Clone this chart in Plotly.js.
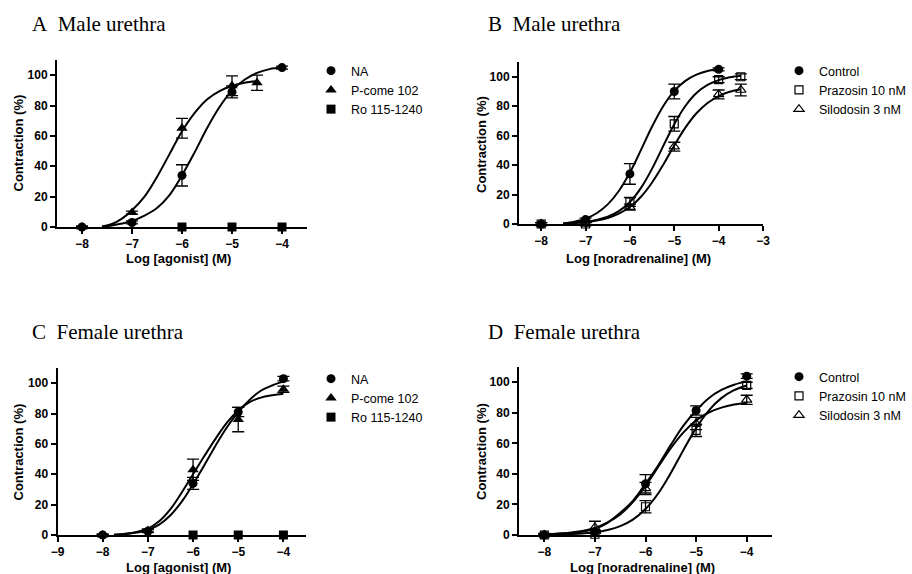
<!DOCTYPE html>
<html>
<head>
<meta charset="utf-8">
<script src="https://cdn.plot.ly/plotly-3.0.1.min.js"></script>
<style>html,body{margin:0;padding:0;background:#fff;}#chart{width:912px;height:574px;}</style>
</head>
<body>
<div id="chart"></div>
<script>
// ---------- DATA ----------
// Panel A – Male urethra (agonists)
const xA_NA = [-8, -7, -6, -5, -4];
const yA_NA = [0, 3, 34, 89, 105];
const eA_NA = [0.5, 1, 7, 4, 1];
const xA_PC = [-8, -7, -6, -5, -4.5];
const yA_PC = [0, 9.5, 65, 93, 95];
const eA_PC = [0.5, 1, 6.5, 6.5, 5];
const xA_Ro = [-6, -5, -4];
const yA_Ro = [0, 0, 0];
const cxA_NA = [-7.6, -7.4, -7.2, -7, -6.75, -6.5, -6.25, -6, -5.75, -5.5, -5.25, -5, -4.75, -4.5, -4.25, -4];
const cyA_NA = [0.2, 1, 2.3, 4, 7.5, 12.5, 21, 34, 49, 65, 79, 90, 97, 101.5, 104, 105];
const cxA_PC = [-7.6, -7.4, -7.2, -7, -6.75, -6.5, -6.25, -6, -5.75, -5.5, -5.25, -5, -4.75, -4.5];
const cyA_PC = [0.3, 2, 5.5, 11, 20, 33, 48, 63, 75, 84, 89.5, 93, 95, 96];

// Panel B – Male urethra (noradrenaline + antagonists)
const xB_Ctl = [-8, -7, -6, -5, -4];
const yB_Ctl = [0, 3, 34, 90, 105];
const eB_Ctl = [1, 1, 7, 5, 1];
const xB_Ant = [-8, -7, -6, -5, -4, -3.5];
const yB_Praz = [0, 0, 15, 68, 98, 100];
const eB_Praz = [1, 1, 3, 5, 2, 2];
const yB_Silo = [0, 0, 11.5, 52.5, 88, 91];
const eB_Silo = [1, 1, 2, 3, 3, 4];
const cxB_Ctl = [-7.5, -7.25, -7, -6.75, -6.5, -6.25, -6, -5.75, -5.5, -5.25, -5, -4.75, -4.5, -4.25, -4];
const cyB_Ctl = [0.4, 1.6, 3.6, 7.3, 13.3, 22.4, 34.9, 50.3, 66.2, 80.0, 90.4, 97.2, 101.4, 103.9, 105.3];
const cxB_Ant = [-7.5, -7.25, -7, -6.75, -6.5, -6.25, -6, -5.75, -5.5, -5.25, -5, -4.75, -4.5, -4.25, -4, -3.75, -3.5];
const cyB_Praz = [0.3, 0.7, 1.4, 2.7, 4.9, 8.7, 14.9, 24.5, 37.6, 52.9, 67.8, 80.1, 88.9, 94.4, 97.7, 99.6, 100.7];
const cyB_Silo = [0.3, 0.7, 1.3, 2.4, 4.1, 7.0, 11.5, 18.5, 28.2, 40.2, 53.3, 65.4, 75.2, 82.2, 86.9, 89.8, 91.5];

// Panel C – Female urethra (agonists)
const xC = [-8, -7, -6, -5, -4];
const yC_NA = [0, 2.5, 34, 81, 103];
const eC_NA = [0.5, 1, 4, 3, 1.5];
const yC_PC = [0, 3, 43, 76, 96];
const eC_PC = [0.5, 1, 7, 8, 2];
const xC_Ro = [-6, -5, -4];
const yC_Ro = [0, 0, 0];
const cxC = [-7.75, -7.5, -7.25, -7, -6.75, -6.5, -6.25, -6, -5.75, -5.5, -5.25, -5, -4.75, -4.5, -4.25, -4];
const cyC_NA = [0.1, 0.6, 1.6, 3.3, 6.8, 13, 22, 33.5, 46, 59, 71, 81, 89, 95, 98.5, 101];
const cyC_PC = [0.1, 0.8, 2, 4.2, 9, 17, 28, 40, 52, 63.5, 74, 82, 87.5, 90.5, 92, 93];

// Panel D – Female urethra (noradrenaline + antagonists)
const xD = [-8, -7, -6, -5, -4];
const yD_Ctl = [0, 2, 33.5, 81.5, 104];
const eD_Ctl = [1, 1, 6, 3, 1.5];
const yD_Praz = [0, 0.5, 18.5, 68.5, 98];
const eD_Praz = [0.5, 1, 4, 4, 2];
const yD_Silo = [0, 5, 30.5, 73, 88.5];
const eD_Silo = [0.5, 4, 4, 4, 3];
const cxD = [-8, -7.75, -7.5, -7.25, -7, -6.75, -6.5, -6.25, -6, -5.75, -5.5, -5.25, -5, -4.75, -4.5, -4.25, -4];
const cyD_Ctl = [0.5, 0.8, 1.3, 2.2, 4, 8, 14.5, 22.4, 33.5, 45.5, 59, 71.6, 81.5, 89.6, 95, 98.4, 100.6];
const cyD_Praz = [0.2, 0.3, 0.6, 1.0, 1.8, 3.3, 5.8, 10.1, 17, 27.2, 40.6, 55.7, 70, 81.5, 89.6, 94.8, 97.9];
const cyD_Silo = [0.5, 0.9, 1.5, 2.6, 4.6, 8.2, 13.5, 21.5, 32.1, 44.5, 56.8, 67.2, 75, 80.2, 83.4, 85.4, 86.5];

// Labels and ticks
const panelTitles = ['A\u00a0\u00a0Male urethra', 'B\u00a0\u00a0Male urethra', 'C\u00a0\u00a0Female urethra', 'D\u00a0\u00a0Female urethra'];
const xTitles = ['Log [agonist] (M)', 'Log [noradrenaline] (M)', 'Log [agonist] (M)', 'Log [noradrenaline] (M)'];
const yTitle = 'Contraction (%)';
const agonistNames = ['NA', 'P-come 102', 'Ro 115-1240'];
const antagonistNames = ['Control', 'Prazosin 10 nM', 'Silodosin 3 nM'];
const xTicksA = [-8, -7, -6, -5, -4];
const xTicksB = [-8, -7, -6, -5, -4, -3];
const xTicksC = [-9, -8, -7, -6, -5, -4];
const xTicksD = [-8, -7, -6, -5, -4];
const yTicks = [0, 20, 40, 60, 80, 100];

// ---------- BUILD ----------
const W = 912, H = 574;
const fx = p => p / W;
const fy = p => 1 - p / H;
const SANS = 'Arial, "Liberation Sans", sans-serif';
const SERIF = '"Times New Roman", "Liberation Serif", serif';

function pts(x, y, err, name, symbol, n, leg, size) {
  const open = symbol.indexOf('open') >= 0;
  return {
    type: 'scatter', mode: 'markers', x: x, y: y, name: name,
    xaxis: 'x' + (n === 1 ? '' : n), yaxis: 'y' + (n === 1 ? '' : n),
    legend: leg, cliponaxis: false,
    marker: {symbol: symbol, size: size, color: '#000',
             line: {color: '#000', width: open ? 1.2 : 0}},
    error_y: err ? {type: 'data', array: err, visible: true, color: '#000', thickness: 1.3, width: 6} : {visible: false}
  };
}
function curve(x, y, n) {
  return {
    type: 'scatter', mode: 'lines', x: x, y: y, showlegend: false, hoverinfo: 'skip',
    xaxis: 'x' + (n === 1 ? '' : n), yaxis: 'y' + (n === 1 ? '' : n),
    line: {color: '#000', width: 2, shape: 'spline', smoothing: 1}
  };
}

const data = [
  curve(cxA_NA, cyA_NA, 1), curve(cxA_PC, cyA_PC, 1),
  pts(xA_NA, yA_NA, eA_NA, agonistNames[0], 'circle', 1, 'legend', 9),
  pts(xA_PC, yA_PC, eA_PC, agonistNames[1], 'triangle-up', 1, 'legend', 10),
  pts(xA_Ro, yA_Ro, null, agonistNames[2], 'square', 1, 'legend', 9),

  curve(cxB_Ctl, cyB_Ctl, 2), curve(cxB_Ant, cyB_Praz, 2), curve(cxB_Ant, cyB_Silo, 2),
  pts(xB_Ctl, yB_Ctl, eB_Ctl, antagonistNames[0], 'circle', 2, 'legend2', 9),
  pts(xB_Ant, yB_Praz, eB_Praz, antagonistNames[1], 'square-open', 2, 'legend2', 8),
  pts(xB_Ant, yB_Silo, eB_Silo, antagonistNames[2], 'triangle-up-open', 2, 'legend2', 9),

  curve(cxC, cyC_NA, 3), curve(cxC, cyC_PC, 3),
  pts(xC, yC_NA, eC_NA, agonistNames[0], 'circle', 3, 'legend3', 9),
  pts(xC, yC_PC, eC_PC, agonistNames[1], 'triangle-up', 3, 'legend3', 10),
  pts(xC_Ro, yC_Ro, null, agonistNames[2], 'square', 3, 'legend3', 9),

  curve(cxD, cyD_Ctl, 4), curve(cxD, cyD_Praz, 4), curve(cxD, cyD_Silo, 4),
  pts(xD, yD_Ctl, eD_Ctl, antagonistNames[0], 'circle', 4, 'legend4', 9),
  pts(xD, yD_Praz, eD_Praz, antagonistNames[1], 'square-open', 4, 'legend4', 8),
  pts(xD, yD_Silo, eD_Silo, antagonistNames[2], 'triangle-up-open', 4, 'legend4', 9)
];

// pixel boxes of the four plot areas: [left, right, bottom(y=0), top(y=110)]
const boxes = [[57, 307, 227, 60], [519, 763, 224, 62], [57.5, 306, 535, 368], [519, 772, 535, 367]];
const xRanges = [[-8.5, -3.5], [-8.5, -3], [-9, -3.5], [-8.5, -3.5]];
const xTickSets = [xTicksA, xTicksB, xTicksC, xTicksD];

const layout = {
  width: W, height: H, margin: {l: 0, r: 0, t: 0, b: 0},
  paper_bgcolor: '#fff', plot_bgcolor: '#fff',
  font: {family: SANS, color: '#000'},
  annotations: [], hovermode: false
};

const tickFont = {family: SANS, size: 12, color: '#000', weight: 'bold'};
boxes.forEach((b, i) => {
  const s = i === 0 ? '' : String(i + 1);
  layout['xaxis' + s] = {
    domain: [fx(b[0]), fx(b[1])], range: xRanges[i], anchor: 'y' + s,
    showline: true, linecolor: '#000', linewidth: 2, ticks: 'outside', ticklen: 5, tickwidth: 2,
    tickcolor: '#000', tickvals: xTickSets[i], tickfont: tickFont, showgrid: false, zeroline: false,
    fixedrange: true
  };
  layout['yaxis' + s] = {
    domain: [fy(b[2]), fy(b[3])], range: [0, 110], anchor: 'x' + s,
    showline: true, linecolor: '#000', linewidth: 2, ticks: 'outside', ticklen: 5, tickwidth: 2,
    tickcolor: '#000', tickvals: yTicks, tickfont: tickFont, showgrid: false, zeroline: false,
    fixedrange: true
  };
});

// panel titles
const titlePos = [[30, 24], [486, 24], [30, 332], [486, 332]];
titlePos.forEach((p, i) => layout.annotations.push({
  text: panelTitles[i], xref: 'paper', yref: 'paper', x: fx(p[0]), y: fy(p[1]),
  xanchor: 'left', yanchor: 'middle', showarrow: false,
  font: {family: SERIF, size: 21, color: '#000'}
}));
// axis titles
const xtPos = [[178, 258], [638, 258], [178, 567], [642, 567]];
xtPos.forEach((p, i) => layout.annotations.push({
  text: xTitles[i], xref: 'paper', yref: 'paper', x: fx(p[0]), y: fy(p[1]),
  xanchor: 'center', yanchor: 'middle', showarrow: false,
  font: {family: SANS, size: 13, color: '#000', weight: 'bold'}
}));
const ytPos = [[18, 143.5], [481, 145], [18, 452.5], [481, 452]];
ytPos.forEach(p => layout.annotations.push({
  text: yTitle, xref: 'paper', yref: 'paper', x: fx(p[0]), y: fy(p[1]),
  xanchor: 'center', yanchor: 'middle', textangle: -90, showarrow: false,
  font: {family: SANS, size: 13, color: '#000', weight: 'bold'}
}));

// legends
const legPos = [[311, 56], [779, 56], [311, 364], [779, 362]];
['legend', 'legend2', 'legend3', 'legend4'].forEach((k, i) => {
  layout[k] = {
    x: fx(legPos[i][0]), y: fy(legPos[i][1]), xanchor: 'left', yanchor: 'top',
    bgcolor: 'rgba(0,0,0,0)', borderwidth: 0, traceorder: 'normal',
    font: {family: SANS, size: 12.5, color: '#000'}, tracegroupgap: 0
  };
});

Plotly.newPlot('chart', data, layout, {staticPlot: true, displayModeBar: false});
</script>
</body>
</html>
